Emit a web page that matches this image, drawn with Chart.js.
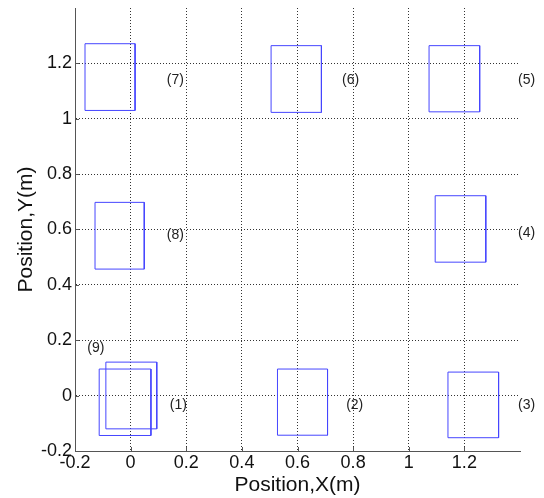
<!DOCTYPE html>
<html>
<head>
<meta charset="utf-8">
<script src="https://cdn.jsdelivr.net/npm/chart.js@4/dist/chart.umd.min.js"></script>
<style>
  body { margin: 0; background: #fff; }
  #wrap { width: 544px; height: 498px; position: relative; }
</style>
</head>
<body>
<div id="wrap"><canvas id="myChart"></canvas></div>
<script>
// rectangles (1)..(9), edges in metres
var rectLeft   = [-0.089, 0.528, 1.141, 1.095, 1.073, 0.505, -0.164, -0.128, -0.113];
var rectRight  = [ 0.094, 0.708, 1.323, 1.277, 1.255, 0.686,  0.016,  0.049,  0.073];
var rectTop    = [ 0.121, 0.096, 0.085, 0.722, 1.264, 1.264,  1.271,  0.698,  0.096];
var rectBottom = [-0.120,-0.143,-0.152, 0.482, 1.025, 1.023,  1.030,  0.457, -0.144];

// number labels
var labelText = ['(1)', '(2)', '(3)', '(4)', '(5)', '(6)', '(7)', '(8)', '(9)'];
var labelX    = [0.141, 0.775, 1.393, 1.393, 1.393, 0.76, 0.13, 0.13, -0.156];
var labelY    = [-0.036, -0.036, -0.036, 0.586, 1.141, 1.141, 1.141, 0.58, 0.172];

var xTicks = [-0.2, 0, 0.2, 0.4, 0.6, 0.8, 1, 1.2, 1.4];
var yTicks = [-0.2, 0, 0.2, 0.4, 0.6, 0.8, 1, 1.2, 1.4];

var datasets = rectLeft.map(function (l, i) {
    var r = rectRight[i], t = rectTop[i], b = rectBottom[i];
    return {
        label: labelText[i],
        data: [{x: l, y: t}, {x: r, y: t}, {x: r, y: b}, {x: l, y: b}, {x: l, y: t}],
        showLine: true,
        borderColor: 'rgb(70,70,255)',
        borderWidth: 1,
        pointRadius: 0,
        fill: false,
        tension: 0
    };
});

function fmt(v) {
    if (v > 1.3) return '';
    return String(Math.round(v * 10) / 10);
}

function gridColor(ctx) {
    var v = ctx.tick ? ctx.tick.value : 0;
    if (v > 1.3 || v < -0.1) return 'rgba(0,0,0,0)';
    return '#333';
}

// small inward tick marks and the (n) labels
var extras = {
    id: 'extras',
    afterDatasetsDraw: function (chart) {
        var c = chart.ctx, xs = chart.scales.x, ys = chart.scales.y;
        var area = chart.chartArea;
        c.save();
        c.strokeStyle = '#555';
        c.lineWidth = 1;
        c.beginPath();
        xTicks.forEach(function (v) {
            if (v > 1.3) return;
            var px = Math.round(xs.getPixelForValue(v)) + 0.5;
            c.moveTo(px, area.bottom); c.lineTo(px, area.bottom - 4);
        });
        yTicks.forEach(function (v) {
            if (v > 1.3) return;
            var py = Math.round(ys.getPixelForValue(v)) + 0.5;
            c.moveTo(area.left, py); c.lineTo(area.left + 4, py);
        });
        c.stroke();

        c.fillStyle = '#222';
        c.font = '14px "Liberation Sans", Arial';
        c.textAlign = 'left';
        c.textBaseline = 'middle';
        labelText.forEach(function (t, i) {
            c.fillText(t, xs.getPixelForValue(labelX[i]), ys.getPixelForValue(labelY[i]));
        });
        c.restore();
    }
};

var ctx = document.getElementById('myChart').getContext('2d');
var chart = new Chart(ctx, {
    type: 'scatter',
    data: { datasets: datasets },
    plugins: [extras],
    options: {
        responsive: true,
        maintainAspectRatio: false,
        animation: false,
        layout: { padding: { top: 8, right: 24, left: 0, bottom: 0 } },
        plugins: {
            legend: { display: false },
            tooltip: { enabled: false }
        },
        scales: {
            x: {
                type: 'linear',
                min: -0.2,
                max: 1.4,
                afterBuildTicks: function (scale) {
                    scale.ticks = xTicks.map(function (v) { return {value: v}; });
                },
                afterFit: function (scale) {
                    scale.height = 47;
                    scale.paddingLeft = 0; scale.paddingRight = 0;
                },
                grid: { color: gridColor, drawTicks: false, lineWidth: 1 },
                border: { display: true, color: '#555', width: 1, dash: [1, 2] },
                ticks: {
                    autoSkip: false,
                    maxRotation: 0,
                    padding: 1,
                    color: '#111',
                    font: { family: '"Liberation Sans", Arial', size: 18 },
                    callback: function (v) { return fmt(v); }
                },
                title: {
                    display: true,
                    text: 'Position,X(m)',
                    color: '#111',
                    font: { family: '"Liberation Sans", Arial', size: 21 },
                    padding: { top: 0, bottom: 0 }
                }
            },
            y: {
                type: 'linear',
                min: -0.2,
                max: 1.4,
                afterBuildTicks: function (scale) {
                    scale.ticks = yTicks.map(function (v) { return {value: v}; });
                },
                afterFit: function (scale) {
                    scale.width = 75;
                    scale.paddingTop = 0; scale.paddingBottom = 0;
                },
                grid: { color: gridColor, drawTicks: false, lineWidth: 1 },
                border: { display: true, color: '#555', width: 1, dash: [1, 2] },
                ticks: {
                    autoSkip: false,
                    padding: 3,
                    color: '#111',
                    font: { family: '"Liberation Sans", Arial', size: 18 },
                    callback: function (v) { return fmt(v); }
                },
                title: {
                    display: true,
                    text: 'Position,Y(m)',
                    color: '#111',
                    font: { family: '"Liberation Sans", Arial', size: 21 },
                    padding: { top: 14, bottom: 0 }
                }
            }
        }
    }
});
</script>
</body>
</html>
